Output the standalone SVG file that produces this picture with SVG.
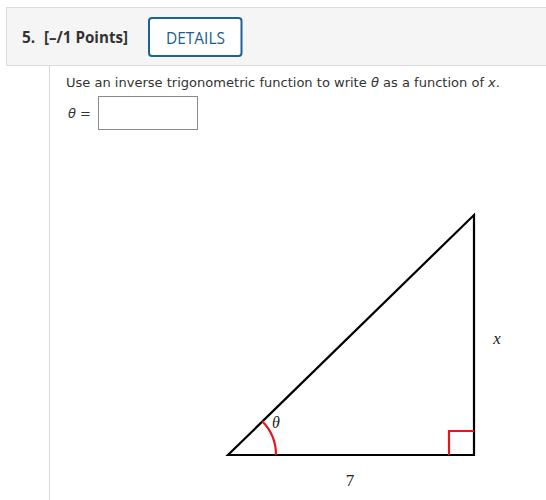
<svg xmlns="http://www.w3.org/2000/svg" width="546" height="500" viewBox="0 0 546 500">
<style>
.ui{font-family:"DejaVu Sans","Noto Sans","Liberation Sans",sans-serif;fill:#333}
.hd{font-family:"Open Sans","Noto Sans",sans-serif;font-weight:bold;fill:#333;font-size:15.5px}
.m{font-family:"Liberation Serif","DejaVu Serif",serif;font-style:italic;fill:#222}
.edge{stroke:#000;stroke-width:2.2;fill:none}
.red{stroke:#e8141b;stroke-width:2.2;fill:none}
</style>
<rect width="546" height="500" fill="#fff"/>
<g id="header">
<rect x="6.5" y="7.5" width="545" height="58" fill="#f5f5f5" stroke="#dcdcdc"/>
<text class="hd" x="22" y="43">5.</text>
<text class="hd" x="44" y="43" textLength="84" lengthAdjust="spacingAndGlyphs">[–/1 Points]</text>
<rect x="149" y="18" width="92.5" height="38" rx="3" fill="#fff" stroke="#1b6394" stroke-width="2"/>
<text x="166" y="43.5" font-size="17" font-family="Open Sans, Noto Sans, sans-serif" fill="#1d5d8f" textLength="59" lengthAdjust="spacingAndGlyphs">DETAILS</text>
</g>
<line x1="49.5" y1="66" x2="49.5" y2="500" stroke="#d8d8d8" stroke-width="1"/>
<g id="question">
<text class="ui" x="66" y="87" font-size="13" textLength="434" lengthAdjust="spacingAndGlyphs">Use an inverse trigonometric function to write <tspan font-style="italic">θ</tspan> as a function of <tspan font-style="italic">x</tspan>.</text>
<text class="ui" x="68" y="118" font-size="13"><tspan font-style="italic">θ</tspan> =</text>
<rect x="98.5" y="96.5" width="99" height="33" fill="#fff" stroke="#8a8a8a"/>
</g>
<g id="triangle">
<polygon class="edge" points="228,455 474,455 474,215" stroke-linejoin="miter"/>
</g>
<g id="markers">
<path class="red" d="M276,455 A48,48 0 0 0 262,421"/>
<polyline class="red" points="449,455 449,431 474,431"/>
</g>
<g id="labels">
<text class="m" x="276" y="428" font-size="16" text-anchor="middle">θ</text>
<text class="m" x="497" y="344" font-size="17" text-anchor="middle">x</text>
<text x="350" y="486" font-size="17" text-anchor="middle" font-family="Liberation Serif, serif" fill="#222">7</text>
</g>
</svg>
